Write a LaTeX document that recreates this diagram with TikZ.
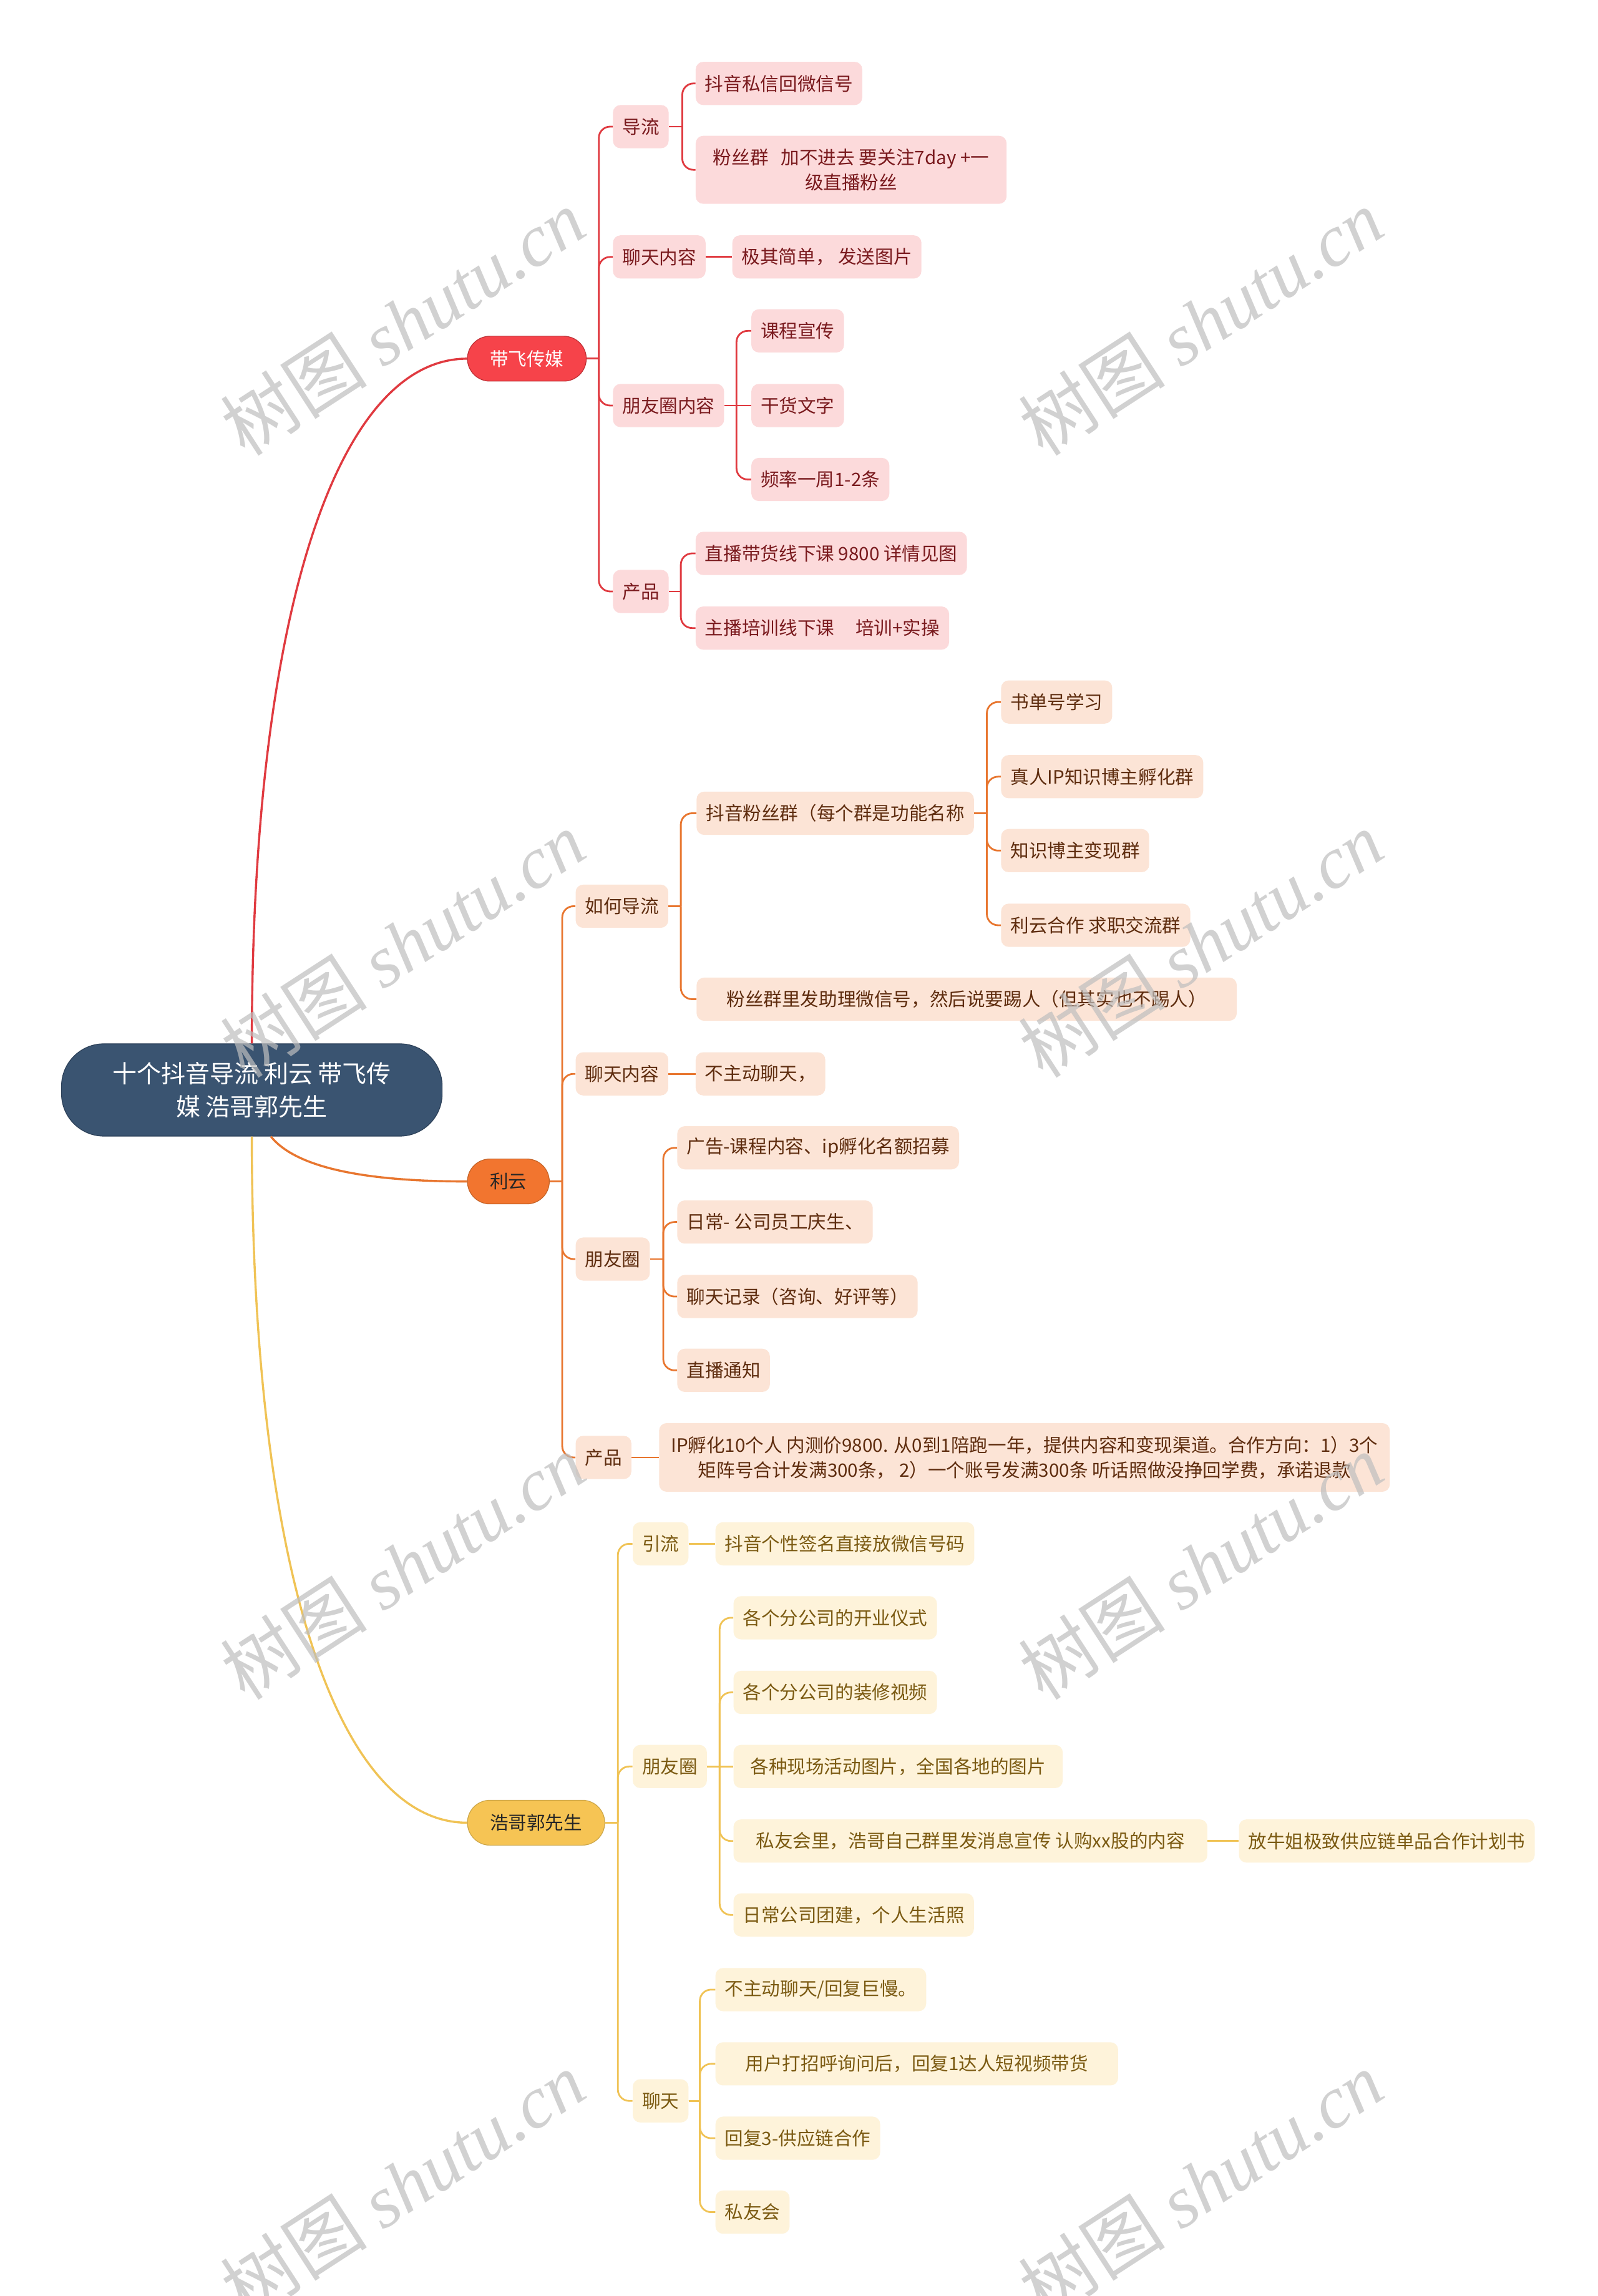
\documentclass[tikz,border=0pt]{standalone}
\usepackage{fontspec}
\setmainfont{Noto Sans CJK SC}
\newfontfamily\wmcjk{Noto Sans CJK SC}
\newfontfamily\wmlat{Liberation Serif}
\usetikzlibrary{calc}
\definecolor{rootfill}{HTML}{3A5471}
\definecolor{rootdraw}{HTML}{2C4058}
\definecolor{redL}{HTML}{E03A40}
\definecolor{redF}{HTML}{F6434A}
\definecolor{redS}{HTML}{FCDADB}
\definecolor{redT}{HTML}{7A1A1E}
\definecolor{orgL}{HTML}{E8762F}
\definecolor{orgF}{HTML}{F2752F}
\definecolor{orgS}{HTML}{FCE4D6}
\definecolor{orgT}{HTML}{5E2C0E}
\definecolor{yelL}{HTML}{F0C355}
\definecolor{yelF}{HTML}{F6C454}
\definecolor{yelS}{HTML}{FEF3DA}
\definecolor{yelT}{HTML}{7B5A12}
\definecolor{wm}{HTML}{BEBEBE}
\tikzset{
  leaf/.style={anchor=west, rounded corners=6pt, inner xsep=7.5pt, inner ysep=3pt,
    minimum height=34.6pt, font=\fontsize{14.8}{20}\selectfont, align=center},
  leafR/.style={leaf, fill=redS, text=redT},
  leafO/.style={leaf, fill=orgS, text=orgT},
  leafY/.style={leaf, fill=yelS, text=yelT},
  mainnode/.style={anchor=west, rounded corners=18pt, inner xsep=18pt, inner ysep=2pt,
    minimum height=36pt, font=\fontsize{14.8}{20}\selectfont, line width=0.6pt},
  mainR/.style={mainnode, fill=redF, draw=redL!85!black, text=white},
  mainO/.style={mainnode, fill=orgF, draw=orgL!85!black, text=black!85},
  mainY/.style={mainnode, fill=yelF, draw=yelL!85!black, text=black!85},
  rootnode/.style={rounded corners=34pt, fill=rootfill, draw=rootdraw, line width=0.6pt,
    text=white, minimum width=305pt, minimum height=74pt, align=center,
    font=\fontsize{19.5}{26.5}\selectfont},
  lineR/.style={draw=redL, line width=1.4pt},
  lineO/.style={draw=orgL, line width=1.4pt},
  lineY/.style={draw=yelL, line width=1.4pt},
  rootR/.style={draw=redL, line width=1.7pt},
  rootO/.style={draw=orgL, line width=1.7pt},
  rootY/.style={draw=yelL, line width=1.7pt},
  wmark/.style={rotate=33, text=wm, opacity=0.7, inner sep=0pt}
}
\newcommand\brc[4]{\draw[#1] (#2.east) -- (#2.east -| #3);
  \draw[#1, rounded corners=9pt] (#2.east -| #3) |- (#4.west);}
\newcommand\brs[3]{\draw[#1] (#2.east) -- (#3.west);}
\begin{document}
\begin{tikzpicture}[x=1.1732pt, y=-1.1732pt]
\useasboundingbox[fill=white] (0,0) rectangle (1091,1568.3);

% root
\node[rootnode] (root) at (172,744.5) {十个抖音导流 利云 带飞传\\媒 浩哥郭先生};

% level 1
\node[mainR] (A) at (319,245) {带飞传媒};
\node[mainO] (B) at (319,807) {利云};
\node[mainY] (C) at (319,1245) {浩哥郭先生};

% trunk coordinates
\coordinate (tA) at (409,0);
\coordinate (tA1) at (466,0);
\coordinate (tA3) at (503,0);
\coordinate (tA4) at (465,0);
\coordinate (tB) at (384,0);
\coordinate (tB1) at (465,0);
\coordinate (tB11) at (674,0);
\coordinate (tB3) at (453,0);
\coordinate (tC) at (422,0);
\coordinate (tC2) at (491.5,0);
\coordinate (tC3) at (478,0);

% red group
\node[leafR] (a1) at (418.5,86.5) {导流};
\node[leafR] (a11) at (475,57) {抖音私信回微信号};
\node[leafR, minimum height=54.5pt, inner xsep=14pt] (a12) at (475,116) {粉丝群\hspace{10pt}加不进去 要关注7day +一\\级直播粉丝};
\node[leafR] (a2) at (418.5,175.5) {聊天内容};
\node[leafR] (a21) at (500,175.5) {极其简单， 发送图片};
\node[leafR] (a3) at (418.5,277) {朋友圈内容};
\node[leafR] (a31) at (513,226) {课程宣传};
\node[leafR] (a32) at (513,277) {干货文字};
\node[leafR] (a33) at (513,327.5) {频率一周1-2条};
\node[leafR] (a4) at (418.5,404) {产品};
\node[leafR] (a41) at (475,378) {直播带货线下课 9800 详情见图};
\node[leafR] (a42) at (475,429) {主播培训线下课\hspace{17pt}培训+实操};

% orange group
\node[leafO] (b1) at (393,619) {如何导流};
\node[leafO] (b11) at (475.6,555.5) {抖音粉丝群（每个群是功能名称};
\node[leafO] (b111) at (683.6,479.5) {书单号学习};
\node[leafO] (b112) at (683.6,530.5) {真人IP知识博主孵化群};
\node[leafO] (b113) at (683.6,581) {知识博主变现群};
\node[leafO] (b114) at (683.6,632) {利云合作 求职交流群};
\node[leafO, inner xsep=24pt] (b12) at (475.6,682.5) {粉丝群里发助理微信号，然后说要踢人（但其实也不踢人）};
\node[leafO] (b2) at (393,733.5) {聊天内容};
\node[leafO] (b21) at (475,733.5) {不主动聊天，};
\node[leafO] (b3) at (393,860) {朋友圈};
\node[leafO] (b31) at (462.4,784) {广告-课程内容、ip孵化名额招募};
\node[leafO] (b32) at (462.4,834.7) {日常- 公司员工庆生、};
\node[leafO] (b33) at (462.4,885.6) {聊天记录（咨询、好评等）};
\node[leafO] (b34) at (462.4,936) {直播通知};
\node[leafO] (b4) at (393,995.5) {产品};
\node[leafO, minimum height=55pt, inner xsep=9.5pt] (b41) at (450,995.5) {IP孵化10个人 内测价9800. 从0到1陪跑一年，提供内容和变现渠道。合作方向：1）3个\\矩阵号合计发满300条， 2）一个账号发满300条 听话照做没挣回学费，承诺退款};

% yellow group
\node[leafY] (c1) at (432,1054.5) {引流};
\node[leafY] (c11) at (488.5,1054.5) {抖音个性签名直接放微信号码};
\node[leafY] (c2) at (432,1206.6) {朋友圈};
\node[leafY] (c21) at (500.8,1105) {各个分公司的开业仪式};
\node[leafY] (c22) at (500.8,1156) {各个分公司的装修视频};
\node[leafY, inner xsep=13.5pt] (c23) at (500.8,1206.6) {各种现场活动图片，全国各地的图片};
\node[leafY, inner xsep=18pt] (c24) at (500.8,1257.5) {私友会里，浩哥自己群里发消息宣传 认购xx股的内容};
\node[leafY] (c241) at (846,1257.5) {放牛姐极致供应链单品合作计划书};
\node[leafY] (c25) at (500.8,1308) {日常公司团建，个人生活照};
\node[leafY] (c3) at (432,1435) {聊天};
\node[leafY] (c31) at (488.5,1359) {不主动聊天/回复巨慢。};
\node[leafY, inner xsep=24pt] (c32) at (488.5,1409.7) {用户打招呼询问后，回复1达人短视频带货};
\node[leafY] (c33) at (488.5,1460.5) {回复3-供应链合作};
\node[leafY] (c34) at (488.5,1511) {私友会};

% root connectors
\draw[rootR] (root.north) .. controls (172,420) and (230,245) .. (A.west);
\draw[rootO] ($(root.south)+(13,0)$) .. controls (200,795) and (240,807) .. (B.west);
\draw[rootY] (root.south) .. controls (172,1070) and (230,1245) .. (C.west);

% red connectors
\brc{lineR}{A}{tA}{a1}
\brc{lineR}{A}{tA}{a2}
\brc{lineR}{A}{tA}{a3}
\brc{lineR}{A}{tA}{a4}
\brc{lineR}{a1}{tA1}{a11}
\brc{lineR}{a1}{tA1}{a12}
\brs{lineR}{a2}{a21}
\brc{lineR}{a3}{tA3}{a31}
\brs{lineR}{a3}{a32}
\brc{lineR}{a3}{tA3}{a33}
\brc{lineR}{a4}{tA4}{a41}
\brc{lineR}{a4}{tA4}{a42}

% orange connectors
\brc{lineO}{B}{tB}{b1}
\brc{lineO}{B}{tB}{b2}
\brc{lineO}{B}{tB}{b3}
\brc{lineO}{B}{tB}{b4}
\brc{lineO}{b1}{tB1}{b11}
\brc{lineO}{b1}{tB1}{b12}
\brc{lineO}{b11}{tB11}{b111}
\brc{lineO}{b11}{tB11}{b112}
\brc{lineO}{b11}{tB11}{b113}
\brc{lineO}{b11}{tB11}{b114}
\brs{lineO}{b2}{b21}
\brc{lineO}{b3}{tB3}{b31}
\brc{lineO}{b3}{tB3}{b32}
\brc{lineO}{b3}{tB3}{b33}
\brc{lineO}{b3}{tB3}{b34}
\brs{lineO}{b4}{b41}

% yellow connectors
\brc{lineY}{C}{tC}{c1}
\brc{lineY}{C}{tC}{c2}
\brc{lineY}{C}{tC}{c3}
\brs{lineY}{c1}{c11}
\brc{lineY}{c2}{tC2}{c21}
\brc{lineY}{c2}{tC2}{c22}
\brs{lineY}{c2}{c23}
\brc{lineY}{c2}{tC2}{c24}
\brc{lineY}{c2}{tC2}{c25}
\brs{lineY}{c24}{c241}
\brc{lineY}{c3}{tC3}{c31}
\brc{lineY}{c3}{tC3}{c32}
\brc{lineY}{c3}{tC3}{c33}
\brc{lineY}{c3}{tC3}{c34}

% watermarks
\foreach \wx/\wy [count=\i] in {275/220, 820/220, 275/645, 820/645, 275/1070, 820/1070, 275/1492, 820/1492}{
  \node[wmark] (wm\i) at (\wx,\wy) {\fontsize{59}{62}\selectfont{\wmcjk 树图} {\wmlat\itshape shutu.cn}};
}
\end{tikzpicture}
\end{document}
